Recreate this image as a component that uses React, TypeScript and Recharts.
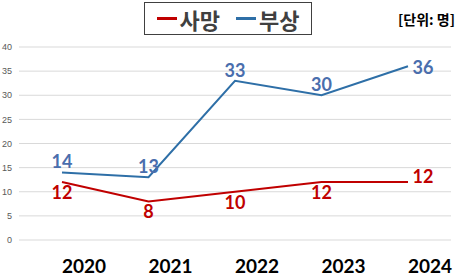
import { LineChart, Line, XAxis, YAxis, CartesianGrid, LabelList } from "recharts";

const years = ["2020", "2021", "2022", "2023", "2024"];
const deaths = [12, 8, 10, 12, 12];
const injuries = [14, 13, 33, 30, 36];
const yTicks = [0, 5, 10, 15, 20, 25, 30, 35, 40];

const data = years.map((year, i) => ({ year, deaths: deaths[i], injuries: injuries[i] }));

const NUM_FONT = "Lato, 'Noto Sans', sans-serif";
const KR_FONT = "'Noto Sans CJK KR', 'Noto Sans', sans-serif";
const RED = "#C00000";
const BLUE_LINE = "#2E6FA7";
const BLUE_TEXT = "#4A6EAD";

// labels: blue above the point, red below, last point to the right
const makeLabel = (color: string, above: boolean) => (props: any) => {
  const { x, y, value, index } = props;
  const last = index === years.length - 1;
  const cx = last ? x + 15 : x;
  const cy = last ? (above ? y + 2 : y - 5) : above ? y - 10 : y + 11;
  return (
    <text
      x={cx}
      y={cy + 6}
      textAnchor="middle"
      fill={color}
      fontFamily={NUM_FONT}
      fontWeight="bold"
      fontSize={18}
    >
      {value}
    </text>
  );
};

const YearTick = (props: any) => {
  const { x, payload } = props;
  return (
    <text x={x + 22} y={273} textAnchor="middle" fill="#000" fontFamily={NUM_FONT} fontWeight="bold" fontSize={19}>
      {payload.value}
    </text>
  );
};

export default function App() {
  return (
    <div style={{ position: "absolute", left: 0, top: 0, width: 460, height: 276, background: "#fff" }}>
      <LineChart width={460} height={276} data={data} margin={{ top: 47, right: 9, left: 0, bottom: 0 }}>
        <CartesianGrid vertical={false} stroke="#D9D9D9" />
        <XAxis
          dataKey="year"
          axisLine={false}
          tickLine={false}
          padding={{ left: 43, right: 43 }}
          height={36}
          tick={<YearTick />}
        />
        <YAxis
          domain={[0, 40]}
          ticks={yTicks}
          width={19}
          axisLine={false}
          tickLine={false}
          tickSize={0}
          tickMargin={7}
          tick={{ fontSize: 9, fill: "#595959", fontFamily: "'Liberation Sans', Arial, sans-serif" }}
        />
        <Line dataKey="injuries" stroke={BLUE_LINE} strokeWidth={2} dot={false} isAnimationActive={false}>
          <LabelList dataKey="injuries" content={makeLabel(BLUE_TEXT, true)} />
        </Line>
        <Line dataKey="deaths" stroke={RED} strokeWidth={2} dot={false} isAnimationActive={false}>
          <LabelList dataKey="deaths" content={makeLabel(RED, false)} />
        </Line>
      </LineChart>
      <div
        style={{
          position: "absolute",
          left: 144,
          top: 2,
          width: 168,
          height: 33,
          border: "1px solid #404040",
          display: "flex",
          alignItems: "center",
          justifyContent: "center",
          fontFamily: KR_FONT,
          fontWeight: "bold",
          fontSize: 22,
          color: "#404040",
          boxSizing: "border-box",
        }}
      >
        <span style={{ display: "inline-block", width: 20, height: 3, background: RED, marginRight: 3 }} />
        <span>사망</span>
        <span style={{ display: "inline-block", width: 20, height: 3, background: BLUE_LINE, marginLeft: 16, marginRight: 3 }} />
        <span>부상</span>
      </div>
      <div
        style={{
          position: "absolute",
          right: 5,
          top: 9,
          fontFamily: KR_FONT,
          fontWeight: "bold",
          fontSize: 14,
          color: "#000",
        }}
      >
        [단위: 명]
      </div>
    </div>
  );
}
